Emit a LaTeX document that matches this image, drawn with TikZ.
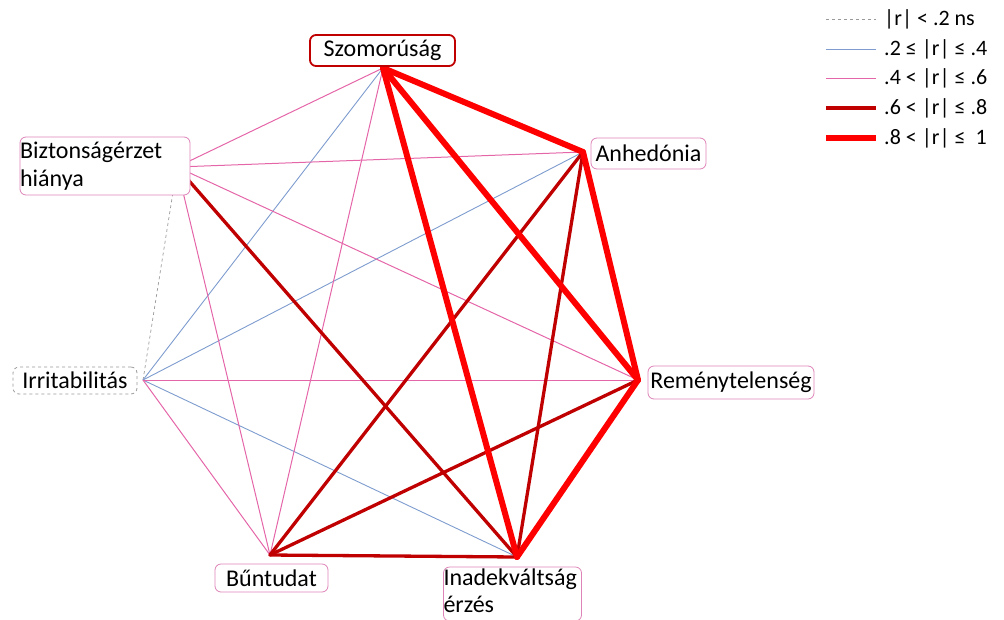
\documentclass[tikz,border=0pt]{standalone}
\usepackage{fontspec}
\setmainfont{Carlito}
\begin{document}
\begin{tikzpicture}[x=1pt,y=-1pt,
  lab/.style={draw=boxpink,line width=0.8pt,rounded corners=6pt,fill=white,
    inner sep=0pt,font=\fontsize{24}{28}\selectfont},
  r0/.style={draw=gray!80,dashed,line width=0.7pt},
  r2/.style={draw=lineblue,line width=0.9pt},
  r4/.style={draw=linepink,line width=1pt},
  r6/.style={draw=darkred,line width=3.3pt,line cap=round},
  r8/.style={draw=brightred,line width=6pt,line cap=round},
  leg/.style={anchor=west,inner sep=0pt,font=\fontsize{22}{24}\selectfont}]
\definecolor{boxpink}{HTML}{DE84B8}
\definecolor{lineblue}{HTML}{7E9CCE}
\definecolor{linepink}{HTML}{E466A8}
\definecolor{darkred}{HTML}{C00000}
\definecolor{brightred}{HTML}{FF0000}
\useasboundingbox (0,0) rectangle (1004,619);

% hub points of the seven symptoms
\coordinate (S) at (383,68);
\coordinate (A) at (583,152);
\coordinate (R) at (638,380);
\coordinate (I) at (517,557);
\coordinate (B) at (270,555);
\coordinate (Ir) at (143,380);
\coordinate (Bz) at (177,167);

% weak correlations
\draw[r0] (Ir) -- (Bz);
\draw[r2] (S) -- (Ir);
\draw[r2] (A) -- (Ir);
\draw[r2] (I) -- (Ir);
\draw[r4] (S) -- (Bz);
\draw[r4] (S) -- (B);
\draw[r4] (A) -- (Bz);
\draw[r4] (R) -- (Ir);
\draw[r4] (R) -- (Bz);
\draw[r4] (B) -- (Ir);
\draw[r4] (B) -- (Bz);
% strong correlations
\draw[r6] (A) -- (I);
\draw[r6] (A) -- (B);
\draw[r6] (R) -- (B);
\draw[r6] (I) -- (B);
\draw[r6] (I) -- (Bz);
% very strong correlations
\draw[r8] (S) -- (A);
\draw[r8] (S) -- (R);
\draw[r8] (S) -- (I);
\draw[r8] (A) -- (R);
\draw[r8] (R) -- (I);

% symptom labels
\node[lab,draw=darkred,line width=1.8pt,minimum width=145pt,minimum height=31pt]
  (nS) at (382.5,50.5) {Szomorúság};
\node[lab,minimum width=115pt,minimum height=31pt] (nA) at (648.5,153.5) {Anhedónia};
\node[lab,minimum width=166pt,minimum height=33pt] (nR) at (731,382.5) {Reménytelenség};
\node[lab,minimum width=113pt,minimum height=28pt] (nB) at (271.5,578) {Bűntudat};
\node[lab,draw=gray!80,dashed,minimum width=124pt,minimum height=27pt]
  (nIr) at (75,380.5) {Irritabilitás};
\node[lab,align=left,text width=170pt,minimum height=58pt] (nBz) at (105,166)
  {Biztonságérzet\\hiánya};
\node[lab,align=left,text width=138pt,minimum height=54pt,
  font=\fontsize{24}{27}\selectfont] (nI) at (512.5,594)
  {Inadekváltság\\érzés\rule[-6pt]{0pt}{6pt}};

% legend
\coordinate (l0a) at (826,19);  \coordinate (l0b) at (876,19);
\coordinate (l2a) at (826,49);  \coordinate (l2b) at (876,49);
\coordinate (l4a) at (826,78);  \coordinate (l4b) at (876,78);
\coordinate (l6a) at (826,108); \coordinate (l6b) at (876,108);
\coordinate (l8a) at (826,138); \coordinate (l8b) at (876,138);
\draw[r0,line width=0.5pt] (l0a) -- (l0b);
\draw[r2] (l2a) -- (l2b);
\draw[r4] (l4a) -- (l4b);
\draw[r6,line cap=butt] (l6a) -- (l6b);
\draw[r8,line cap=butt] (l8a) -- (l8b);
\node[leg] (t0) at (884,19) {|r| < .2 ns};
\node[leg] (t2) at (884,49) {.2 ≤ |r| ≤ .4};
\node[leg] (t4) at (884,78) {.4 < |r| ≤ .6};
\node[leg] (t6) at (884,108) {.6 < |r| ≤ .8};
\node[leg] (t8) at (884,138) {.8 < |r| ≤~~1};
\end{tikzpicture}
\end{document}
